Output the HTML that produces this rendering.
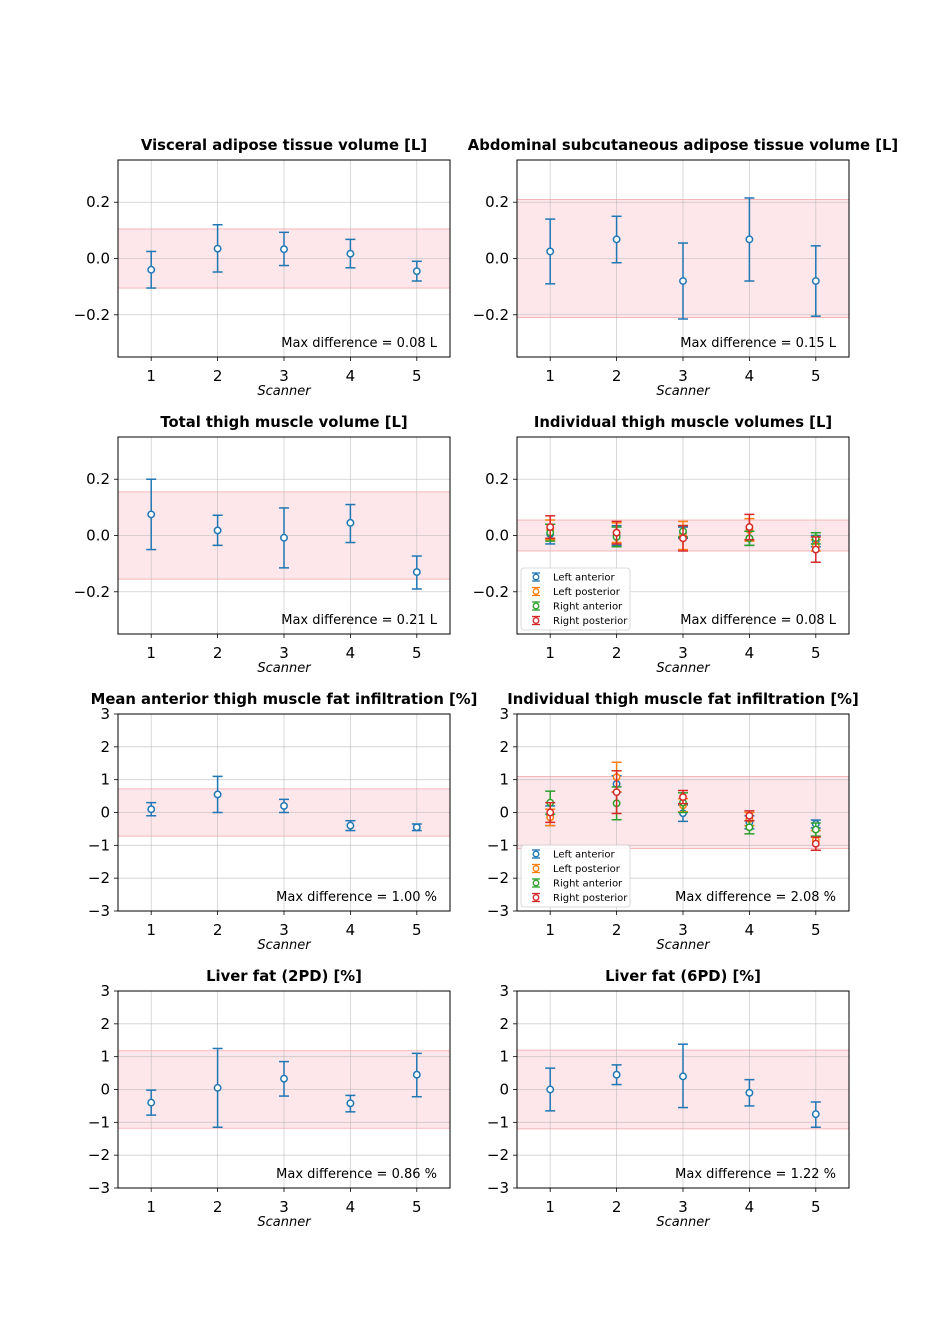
<!DOCTYPE html>
<html><head><meta charset="utf-8"><style>
body{margin:0;background:#fff}
svg{display:block;font-family:"DejaVu Sans","Liberation Sans",sans-serif}
</style></head><body>
<svg id="fig" width="943" height="1333" viewBox="0 0 943 1333" xmlns="http://www.w3.org/2000/svg"></svg>
<script>
const scanners=[1,2,3,4,5];
const seriesNames=["Left anterior","Left posterior","Right anterior","Right posterior"];
const colors=["#1f77b4","#ff7f0e","#2ca02c","#d62728"];
const volTicks=[-0.2,0,0.2];
const volTickLabels=["−0.2","0.0","0.2"];
const fatTicks=[-3,-2,-1,0,1,2,3];
const fatTickLabels=["−3","−2","−1","0","1","2","3"];
// Panel 1 VAT
const vatVals=[-0.04,0.035,0.033,0.017,-0.045];
const vatLow=[-0.105,-0.048,-0.025,-0.033,-0.08];
const vatHigh=[0.025,0.12,0.093,0.068,-0.01];
// Panel 2 ASAT
const asatVals=[0.025,0.068,-0.08,0.068,-0.08];
const asatLow=[-0.09,-0.015,-0.215,-0.08,-0.205];
const asatHigh=[0.14,0.15,0.055,0.215,0.045];
// Panel 3 total thigh
const ttVals=[0.075,0.018,-0.008,0.045,-0.13];
const ttLow=[-0.05,-0.035,-0.115,-0.025,-0.19];
const ttHigh=[0.2,0.072,0.098,0.11,-0.073];
// Panel 4 individual volumes
const ivVals=[[0.005,0.0,0.01,-0.01,-0.02],[0.02,0.01,0.0,0.02,-0.035],[0.01,-0.005,0.015,-0.01,-0.01],[0.03,0.01,-0.01,0.03,-0.05]];
const ivErr=[[0.035,0.035,0.02,0.025,0.02],[0.035,0.035,0.05,0.04,0.02],[0.03,0.035,0.02,0.025,0.02],[0.04,0.04,0.045,0.045,0.045]];
// Panel 5 mean anterior FI
const mfVals=[0.1,0.55,0.2,-0.4,-0.45];
const mfLow=[-0.1,0.0,0.0,-0.55,-0.55];
const mfHigh=[0.3,1.1,0.4,-0.25,-0.35];
// Panel 6 individual FI
const ifVals=[[-0.1,0.87,-0.02,-0.3,-0.35],[-0.15,1.08,0.22,-0.2,-0.85],[0.3,0.28,0.3,-0.45,-0.52],[0.0,0.62,0.47,-0.1,-0.95]];
const ifErr=[[0.3,0.25,0.25,0.2,0.12],[0.25,0.45,0.2,0.2,0.3],[0.35,0.5,0.3,0.2,0.2],[0.3,0.65,0.2,0.15,0.2]];
// Panel 7 liver 2PD
const l2Vals=[-0.4,0.05,0.33,-0.42,0.45];
const l2Low=[-0.78,-1.15,-0.2,-0.68,-0.22];
const l2High=[-0.02,1.25,0.85,-0.18,1.1];
// Panel 8 liver 6PD
const l6Vals=[0,0.45,0.4,-0.1,-0.75];
const l6Low=[-0.65,0.15,-0.55,-0.5,-1.15];
const l6High=[0.65,0.75,1.38,0.3,-0.38];

const NS="http://www.w3.org/2000/svg";
const svg=document.getElementById('fig');
function mk(tag,attrs,parent){const e=document.createElementNS(NS,tag);for(const k in attrs)e.setAttribute(k,attrs[k]);(parent||svg).appendChild(e);return e;}
function txt(s,attrs,parent){const e=mk('text',attrs,parent);e.textContent=s;return e;}

function panel(o){
  const g=mk('g',{});
  
  
  const L=o.x,T=o.y,W=332,H=197;
  const xs=v=>L+(v-0.5)/5*W;
  const ys=v=>T+H-(v-o.ymin)/(o.ymax-o.ymin)*H;
  const band=mk('rect',{x:L,y:ys(o.band),width:W,height:ys(-o.band)-ys(o.band),fill:"#fde7ea",stroke:"#f5a9ad","stroke-width":0.8},g);
  
  
  scanners.forEach(s=>mk('line',{x1:xs(s),x2:xs(s),y1:T,y2:T+H,stroke:"#b0b0b0","stroke-width":0.8,opacity:0.6},g));
  o.ticks.forEach(t=>mk('line',{x1:L,x2:L+W,y1:ys(t),y2:ys(t),stroke:"#b0b0b0","stroke-width":0.8,opacity:0.6},g));
  scanners.forEach(s=>{mk('line',{x1:xs(s),x2:xs(s),y1:T+H,y2:T+H+4,stroke:"#000","stroke-width":0.8},g);
    const t=txt(String(s),{x:xs(s),y:T+H+24,"font-size":15,"text-anchor":"middle"},g);
    });
  o.ticks.forEach((t,i)=>{mk('line',{x1:L-4,x2:L,y1:ys(t),y2:ys(t),stroke:"#000","stroke-width":0.8},g);
    const e=txt(o.tickLabels[i],{x:L-8,y:ys(t)+5,"font-size":15,"text-anchor":"end"},g);
    });
  o.series.forEach((sr,si)=>{
    scanners.forEach((s,i)=>{
      const cx=xs(s),lo=ys(sr.low[i]),hi=ys(sr.high[i]),cy=ys(sr.vals[i]);
      const c=sr.color;
      mk('line',{x1:cx,x2:cx,y1:lo,y2:hi,stroke:c,"stroke-width":1.5},g);
      mk('line',{x1:cx-5,x2:cx+5,y1:lo,y2:lo,stroke:c,"stroke-width":1.5},g);
      mk('line',{x1:cx-5,x2:cx+5,y1:hi,y2:hi,stroke:c,"stroke-width":1.5},g);
      const p=mk('circle',{cx:cx,cy:cy,r:3.2,fill:"#fff",stroke:c,"stroke-width":1.5},g);
      
      
    });
  });
  mk('rect',{x:L,y:T,width:W,height:H,fill:"none",stroke:"#000","stroke-width":1},g);
  const ti=txt(o.title,{x:L+W/2,y:T-10,"font-size":14.8,"font-weight":"bold","text-anchor":"middle"},g);
  
  const xl=txt("Scanner",{x:L+W/2,y:T+H+38,"font-size":13,"font-style":"italic","text-anchor":"middle"},g);
  
  const md=txt(o.maxdiff,{x:L+W-13,y:T+H-10,"font-size":13,"text-anchor":"end"},g);
  
  if(o.legend){
    const lg=mk('g',{},g);
    
    mk('rect',{x:L+4,y:T+H-66,width:109,height:62,rx:3,fill:"#fff",stroke:"#ccc","stroke-width":0.8,opacity:0.9},lg);
    seriesNames.forEach((n,i)=>{
      const yy=T+H-57+i*14.5;
      mk('line',{x1:L+19,x2:L+19,y1:yy-4,y2:yy+4,stroke:colors[i],"stroke-width":1.3},lg);
      mk('line',{x1:L+15,x2:L+23,y1:yy-4,y2:yy-4,stroke:colors[i],"stroke-width":1.3},lg);
      mk('line',{x1:L+15,x2:L+23,y1:yy+4,y2:yy+4,stroke:colors[i],"stroke-width":1.3},lg);
      mk('circle',{cx:L+19,cy:yy,r:2.8,fill:"#fff",stroke:colors[i],"stroke-width":1.3},lg);
      const le=txt(n,{x:L+36,y:yy+3.5,"font-size":10},lg);
      
    });
  }
}
function single(v,lo,hi){return [{vals:v,low:lo,high:hi,color:colors[0]}];}
function multi(V,E){return V.map((v,i)=>({vals:v,low:v.map((x,j)=>x-E[i][j]),high:v.map((x,j)=>x+E[i][j]),color:colors[i]}));}
const vol={ymin:-0.35,ymax:0.35,ticks:volTicks,tickLabels:volTickLabels};
const fat={ymin:-3,ymax:3,ticks:fatTicks,tickLabels:fatTickLabels};
panel(Object.assign({name:'vat-panel',x:118,y:160,title:"Visceral adipose tissue volume [L]",band:0.105,maxdiff:"Max difference = 0.08 L",series:single(vatVals,vatLow,vatHigh)},vol));
panel(Object.assign({name:'asat-panel',x:517,y:160,title:"Abdominal subcutaneous adipose tissue volume [L]",band:0.21,maxdiff:"Max difference = 0.15 L",series:single(asatVals,asatLow,asatHigh)},vol));
panel(Object.assign({name:'total-thigh-panel',x:118,y:437,title:"Total thigh muscle volume [L]",band:0.155,maxdiff:"Max difference = 0.21 L",series:single(ttVals,ttLow,ttHigh)},vol));
panel(Object.assign({name:'individual-thigh-panel',x:517,y:437,title:"Individual thigh muscle volumes [L]",band:0.055,maxdiff:"Max difference = 0.08 L",legend:true,series:multi(ivVals,ivErr)},vol));
panel(Object.assign({name:'mean-fat-panel',x:118,y:714,title:"Mean anterior thigh muscle fat infiltration [%]",band:0.72,maxdiff:"Max difference = 1.00 %",series:single(mfVals,mfLow,mfHigh)},fat));
panel(Object.assign({name:'individual-fat-panel',x:517,y:714,title:"Individual thigh muscle fat infiltration [%]",band:1.1,maxdiff:"Max difference = 2.08 %",legend:true,series:multi(ifVals,ifErr)},fat));
panel(Object.assign({name:'liver-2pd-panel',x:118,y:991,title:"Liver fat (2PD) [%]",band:1.18,maxdiff:"Max difference = 0.86 %",series:single(l2Vals,l2Low,l2High)},fat));
panel(Object.assign({name:'liver-6pd-panel',x:517,y:991,title:"Liver fat (6PD) [%]",band:1.2,maxdiff:"Max difference = 1.22 %",series:single(l6Vals,l6Low,l6High)},fat));
</script>
</body></html>
